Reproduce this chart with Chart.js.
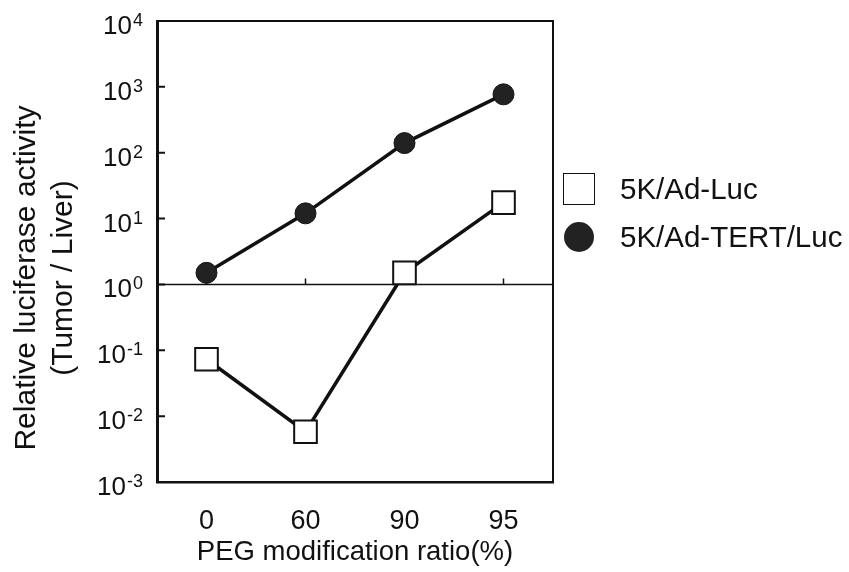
<!DOCTYPE html>
<html>
<head>
<meta charset="utf-8">
<script src="https://cdn.jsdelivr.net/npm/chart.js@4.4.0/dist/chart.umd.min.js"></script>
<style>
  html, body { margin: 0; padding: 0; background: #fff; }
  #wrap { position: relative; width: 849px; height: 572px; }
  #legend {
    position: absolute; left: 563px; top: 165px;
    list-style: none; margin: 0; padding: 0;
    font-family: "Liberation Sans", Arial, sans-serif; font-size: 29.5px; color: #111;
  }
  #legend li { display: flex; align-items: center; height: 48px; }
  .legend-mark { display: inline-block; width: 32px; height: 32px; margin-right: 25px; box-sizing: border-box; }
</style>
</head>
<body>
<div id="wrap">
  <canvas id="chart" width="849" height="572"></canvas>
  <ul id="legend"></ul>
</div>
<script>
const categories = ["0", "60", "90", "95"];
const adLuc = [0.073, 0.0058, 1.5, 17.5];
const adTertLuc = [1.5, 12, 140, 770];
const yExponents = [-3, -2, -1, 0, 1, 2, 3, 4];

const FONT = '"Liberation Sans", Arial, sans-serif';
const INK = "#111";

// frame: top/right border, the line at 10^0 and inward ticks
const framePlugin = {
  id: "frame",
  beforeDatasetsDraw(chart) {
    const { ctx, chartArea: a, scales } = chart;
    const y1 = scales.y.getPixelForValue(1);
    ctx.save();
    ctx.strokeStyle = INK;
    ctx.lineWidth = 2;
    ctx.beginPath();
    ctx.moveTo(a.left, a.top); ctx.lineTo(a.right, a.top); ctx.lineTo(a.right, a.bottom);
    ctx.stroke();

    ctx.lineWidth = 1.5;
    ctx.beginPath();
    ctx.moveTo(a.left, y1); ctx.lineTo(a.right, y1);
    categories.forEach((c, i) => {
      const x = scales.x.getPixelForValue(i);
      ctx.moveTo(x, y1); ctx.lineTo(x, y1 - 6);
    });
    ctx.stroke();

    ctx.lineWidth = 2;
    ctx.beginPath();
    yExponents.slice(1, -1).forEach(e => {
      const y = scales.y.getPixelForValue(Math.pow(10, e));
      ctx.moveTo(a.left, y); ctx.lineTo(a.left + 8, y);
    });
    ctx.stroke();
    ctx.restore();
  }
};

// 10^n labels with superscripts + the two line y title
const yLabelPlugin = {
  id: "yLabels",
  afterDraw(chart) {
    const { ctx, scales } = chart;
    ctx.save();
    ctx.fillStyle = INK;
    ctx.textBaseline = "alphabetic";
    ctx.textAlign = "left";
    yExponents.forEach(e => {
      const y = scales.y.getPixelForValue(Math.pow(10, e));
      ctx.font = "18px " + FONT;
      const ew = ctx.measureText(String(e)).width;
      ctx.font = "26px " + FONT;
      const bw = ctx.measureText("10").width;
      const x0 = 142 - ew - bw;
      ctx.fillText("10", x0, y + 13);
      ctx.font = "18px " + FONT;
      ctx.fillText(String(e), x0 + bw + 1, y + 5);
    });

    ctx.translate(0, 278);
    ctx.rotate(-Math.PI / 2);
    ctx.textAlign = "center";
    ctx.textBaseline = "middle";
    ctx.font = "30px " + FONT;
    ctx.fillText("Relative luciferase activity", 0, 27);
    ctx.fillText("(Tumor / Liver)", 0, 64);
    ctx.restore();
  }
};

function renderLegend(chart) {
  const legend = document.getElementById("legend");
  legend.innerHTML = "";
  chart.data.datasets.forEach(ds => {
    const li = document.createElement("li");
    const round = ds.pointStyle === "circle";
    const mark = round
      ? `background:${ds.pointBackgroundColor};border-radius:50%;width:30px;height:30px;margin-left:1px;margin-right:26px;`
      : `background:#fff;border:1.5px solid ${INK};`;
    li.innerHTML = `<span class="legend-mark" style="${mark}"></span>${ds.label}`;
    legend.appendChild(li);
  });
}

const chart = new Chart(document.getElementById("chart"), {
  type: "line",
  data: {
    labels: categories,
    datasets: [
      {
        label: "5K/Ad-Luc",
        data: adLuc,
        borderColor: INK,
        borderWidth: 3.5,
        pointStyle: "rect",
        pointRadius: 16,
        pointBackgroundColor: "#fff",
        pointBorderColor: INK,
        pointBorderWidth: 2,
        clip: false
      },
      {
        label: "5K/Ad-TERT/Luc",
        data: adTertLuc,
        borderColor: INK,
        borderWidth: 3.5,
        pointStyle: "circle",
        pointRadius: 10.5,
        pointBackgroundColor: "#222",
        pointBorderColor: INK,
        pointBorderWidth: 1,
        clip: false
      }
    ]
  },
  options: {
    responsive: false,
    animation: false,
    devicePixelRatio: 1,
    layout: { padding: { left: 0, right: 296, top: 21, bottom: 0 } },
    plugins: { legend: { display: false }, tooltip: { enabled: false } },
    scales: {
      x: {
        type: "category",
        offset: true,
        grid: { display: false },
        border: { display: true, color: INK, width: 2.5 },
        ticks: { color: INK, font: { family: FONT, size: 27 }, padding: 15 },
        title: {
          display: true,
          text: "PEG modification ratio(%)",
          color: INK,
          font: { family: FONT, size: 27.5 },
          padding: { top: 4, bottom: 3 }
        },
        afterFit(scale) { scale.height = 90; }
      },
      y: {
        type: "logarithmic",
        min: 1e-3,
        max: 1e4,
        grid: { display: false },
        border: { display: true, color: INK, width: 3 },
        ticks: { display: false },
        afterFit(scale) { scale.width = 157; }
      }
    }
  },
  plugins: [framePlugin, yLabelPlugin]
});

renderLegend(chart);
</script>
</body>
</html>
